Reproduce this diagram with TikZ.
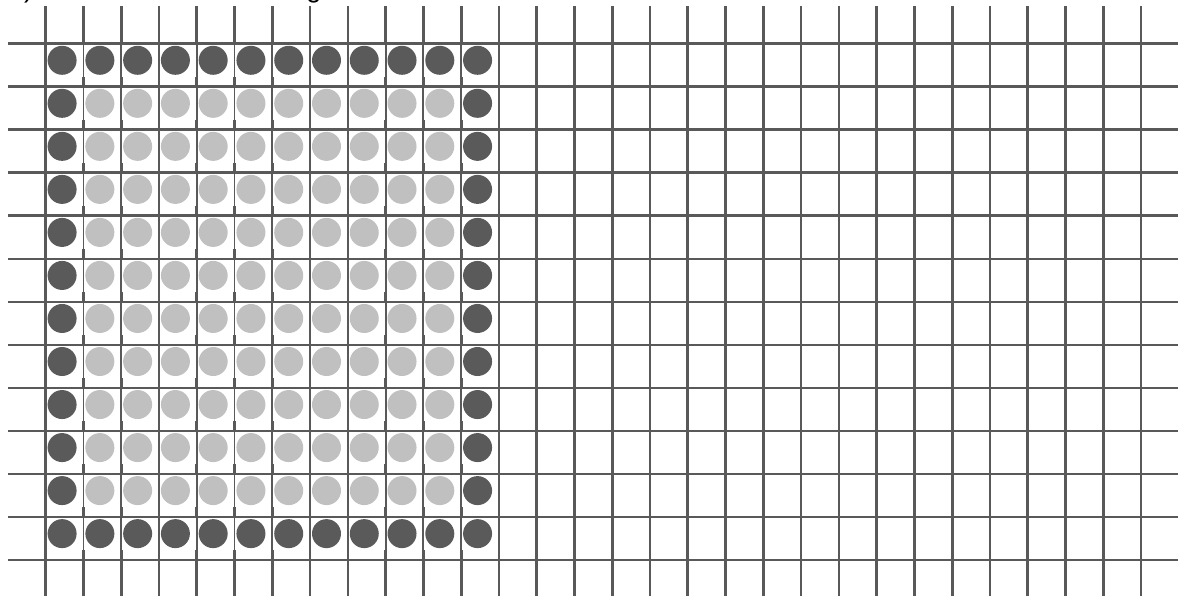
\documentclass[tikz,border=0pt]{standalone}
\usepackage{fontspec}
\setmainfont{Liberation Sans}
\definecolor{gridc}{HTML}{595959}
\definecolor{darkc}{HTML}{5A5A5A}
\definecolor{lightc}{HTML}{C0C0C0}
\begin{document}
\begin{tikzpicture}[x=1pt,y=-1pt,
  gridline/.style={draw=gridc,line width=2.7pt},
  cellbg/.style={fill=white},
  dot/.style={circle,inner sep=0pt,minimum size=29pt},
  darkdot/.style={dot,fill=darkc},
  lightdot/.style={dot,fill=lightc}]
\useasboundingbox (0,0) rectangle (1178,596);
\clip (0,0) rectangle (1178,596);
\node[anchor=base west,font=\fontsize{27}{30}\selectfont,inner sep=0pt] (title) at (9,-2) {a) Halo zone around the grid};
\foreach \i in {0,...,29} {
  \coordinate (vt\i) at ({45.7+37.77*\i},6);
  \coordinate (vb\i) at ({45.7+37.77*\i},596);
  \draw[gridline] (vt\i) -- (vb\i);
}
\foreach \j in {0,...,12} {
  \coordinate (hl\j) at (8,{43.7+43.03*\j});
  \coordinate (hr\j) at (1178,{43.7+43.03*\j});
  \draw[gridline] (hl\j) -- (hr\j);
}
\foreach \i in {0,...,11} {
  \foreach \j in {0,...,11} {
    \pgfmathsetmacro{\xo}{45.7+37.77*\i}
    \pgfmathsetmacro{\yo}{43.7+43.03*\j}
    \fill[cellbg] (\xo+0.9,\yo+0.9) rectangle (\xo+36.8,\yo+33);
    \pgfmathtruncatemacro{\inner}{(\i>0)&&(\i<11)&&(\j>0)&&(\j<11)}
    \ifnum\inner=1
      \node[lightdot] (c-\i-\j) at (\xo+16.4,\yo+16.6) {};
    \else
      \node[darkdot] (c-\i-\j) at (\xo+16.4,\yo+16.6) {};
    \fi
  }
}
\end{tikzpicture}
\end{document}
